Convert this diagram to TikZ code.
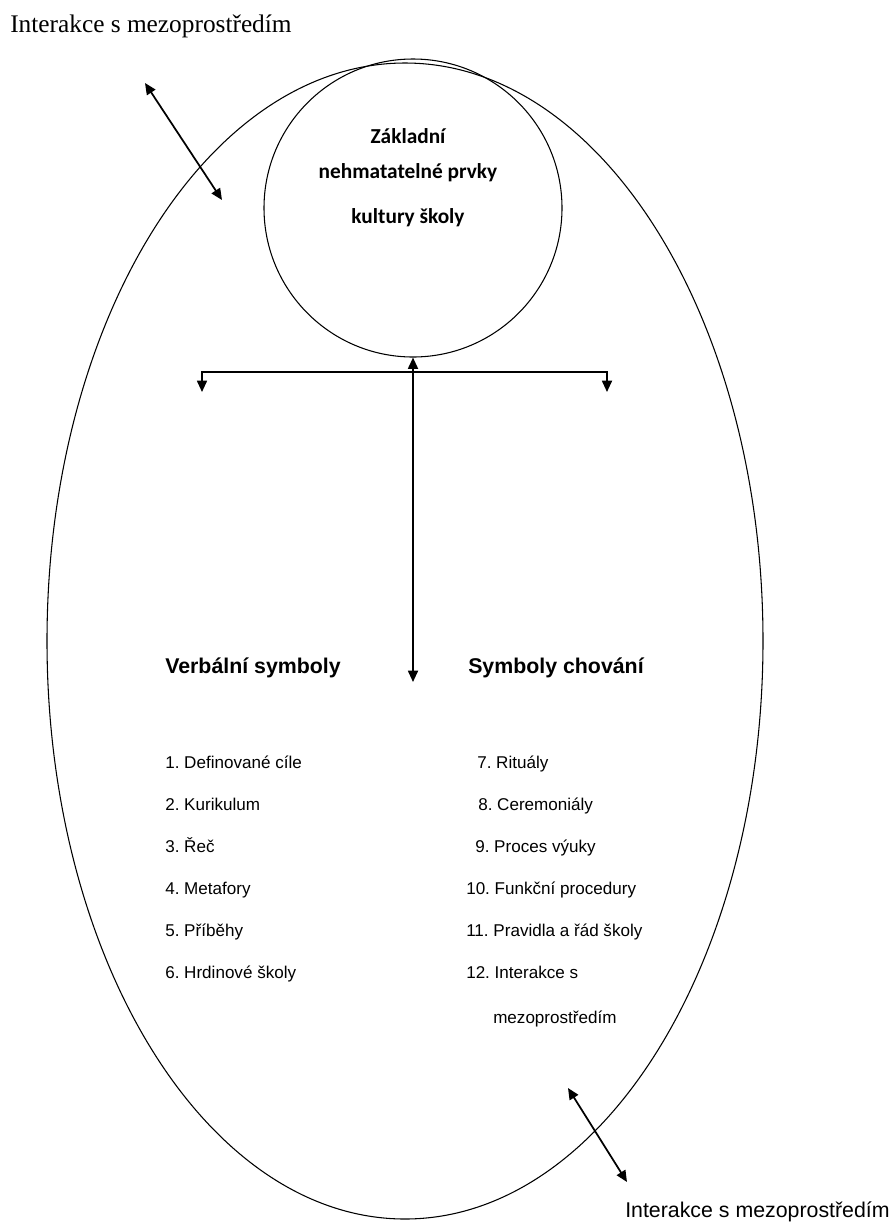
\documentclass[tikz,border=0pt]{standalone}
\usepackage{fontspec}
\setmainfont{Liberation Serif}
\setsansfont{Liberation Sans}
\newfontfamily\calibri{Carlito}
\usetikzlibrary{arrows.meta,shapes.geometric}
\frenchspacing

\begin{document}
\begin{tikzpicture}[x=0.75pt,y=-0.75pt,
  heading/.style={anchor=base west,inner sep=0pt,font=\sffamily\bfseries\fontsize{16}{19}\selectfont},
  item/.style={anchor=base west,inner sep=0pt,font=\sffamily\fontsize{12.8}{15}\selectfont},
  coretext/.style={anchor=base,inner sep=0pt,font=\calibri\bfseries\fontsize{16}{19}\selectfont},
  >={Triangle[width=7.5pt,length=8.5pt]}]
\useasboundingbox (0,0) rectangle (893,1222);
% the two shapes
\node[ellipse,draw,line width=0.8pt,inner sep=0pt,minimum width=537pt,minimum height=867pt] (culture) at (405,641) {};
\node[circle,draw,line width=0.8pt,inner sep=0pt,minimum size=223.5pt] (core) at (413,208) {};
\node[coretext] (c1) at (408,143) {Základní};
\node[coretext] (c2) at (408,178) {nehmatatelné prvky};
\node[coretext] (c3) at (408,223) {kultury školy};
% outside labels
\node[anchor=base west,inner sep=0pt,font=\fontsize{19}{22}\selectfont] (mezoA) at (10,32) {Interakce s mezoprostředím};
\node[anchor=base west,inner sep=0pt,font=\sffamily\fontsize{16}{19}\selectfont] (mezoB) at (625,1217) {Interakce s mezoprostředím};
% headings
\node[heading] (verb) at (165,673) {Verbální symboly};
\node[heading] (behav) at (468,673) {Symboly chování};
% lists
\node[item] (v1) at (165,768) {1. Definované cíle};
\node[item] (v2) at (165,810) {2. Kurikulum};
\node[item] (v3) at (165,852) {3. Řeč};
\node[item] (v4) at (165,894) {4. Metafory};
\node[item] (v5) at (165,936) {5. Příběhy};
\node[item] (v6) at (165,978) {6. Hrdinové školy};
\node[item] (b7) at (477,768) {7. Rituály};
\node[item] (b8) at (478,810) {8. Ceremoniály};
\node[item] (b9) at (475,852) {9. Proces výuky};
\node[item] (b10) at (466,894) {10. Funkční procedury};
\node[item] (b11) at (466,936) {11. Pravidla a řád školy};
\node[item] (b12) at (466,978) {12. Interakce s};
\node[item] (b12b) at (493,1023) {mezoprostředím};
% arrows
\coordinate (down) at (413,682);
\coordinate (lt) at (202,392);
\coordinate (rt) at (607,392);
\coordinate (tlA) at (145,83);
\coordinate (tlB) at (222,200);
\coordinate (brA) at (568,1088);
\coordinate (brB) at (627,1182);
\path[<->,line width=1.3pt]
(core.south) edge (down)
(tlA) edge (tlB)
(brA) edge (brB)
;
\draw[<->,line width=1.3pt] (lt) -- ++(0,-20) -| (rt);
\end{tikzpicture}
\end{document}
